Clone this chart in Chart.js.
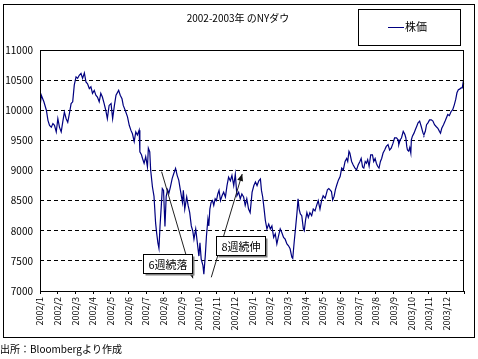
<!DOCTYPE html>
<html>
<head>
<meta charset="utf-8">
<script src="https://cdn.jsdelivr.net/npm/chart.js@4/dist/chart.umd.min.js"></script>
<style>
html,body{margin:0;padding:0;background:#fff;}
canvas{display:block;}
</style>
</head>
<body>
<canvas id="graficoDow" width="478" height="359"></canvas>
<script>
const titulo = "2002-2003年 のNYダウ";
const fonte = "出所：Bloombergより作成";
const serieNome = "株価";

const monthLabels = [
    "2002/1","2002/2","2002/3","2002/4","2002/5","2002/6",
    "2002/7","2002/8","2002/9","2002/10","2002/11","2002/12",
    "2003/1","2003/2","2003/3","2003/4","2003/5","2003/6",
    "2003/7","2003/8","2003/9","2003/10","2003/11","2003/12"
];

// position in months since 2002/1
const monthPos = [
    0, 0.075, 0.22, 0.36, 0.45, 0.54, 0.64, 0.73, 0.82, 0.92,
    1.01, 1.10, 1.20, 1.29, 1.38, 1.48, 1.57, 1.66, 1.76, 1.85,
    1.94, 2.04, 2.13, 2.22, 2.32, 2.41, 2.51, 2.60, 2.69, 2.79,
    2.88, 2.97, 3.07, 3.16, 3.25, 3.35, 3.44, 3.53, 3.63, 3.72,
    3.81, 3.91, 4.02, 4.11, 4.21, 4.30, 4.45, 4.54, 4.64, 4.71,
    4.82, 4.95, 5.05, 5.14, 5.23, 5.33, 5.42, 5.51, 5.61, 5.65,
    5.74, 5.80, 5.89, 5.98, 6.08, 6.13, 6.21, 6.26, 6.36, 6.45,
    6.54, 6.60, 6.67, 6.73, 6.79, 6.86, 6.92, 6.99, 7.07, 7.14,
    7.22, 7.29, 7.38, 7.48, 7.57, 7.67, 7.76, 7.85, 7.94, 8.06,
    8.11, 8.19, 8.30, 8.38, 8.47, 8.56, 8.64, 8.71, 8.81, 8.90,
    8.99, 9.05, 9.12, 9.22, 9.27, 9.35, 9.42, 9.50, 9.55, 9.61,
    9.68, 9.76, 9.83, 9.91, 9.98, 10.06, 10.13, 10.21, 10.30, 10.39,
    10.49, 10.58, 10.67, 10.77, 10.86, 10.96, 11.05, 11.14, 11.24, 11.33,
    11.42, 11.52, 11.61, 11.70, 11.80, 11.89, 12.00, 12.10, 12.19, 12.28,
    12.38, 12.47, 12.53, 12.60, 12.68, 12.75, 12.84, 12.94, 13.03, 13.12,
    13.22, 13.31, 13.40, 13.50, 13.59, 13.68, 13.78, 13.87, 13.97, 14.06,
    14.15, 14.25, 14.30, 14.38, 14.47, 14.54, 14.60, 14.66, 14.73, 14.81,
    14.90, 14.95, 15.03, 15.10, 15.18, 15.27, 15.37, 15.46, 15.56, 15.65,
    15.74, 15.84, 15.93, 16.02, 16.13, 16.19, 16.26, 16.34, 16.41, 16.49,
    16.56, 16.64, 16.71, 16.79, 16.88, 16.98, 17.07, 17.16, 17.26, 17.35,
    17.41, 17.48, 17.53, 17.63, 17.72, 17.82, 17.91, 18.00, 18.10, 18.17,
    18.25, 18.32, 18.40, 18.47, 18.54, 18.62, 18.71, 18.81, 18.88, 18.96,
    19.03, 19.10, 19.18, 19.26, 19.33, 19.41, 19.50, 19.59, 19.69, 19.78,
    19.87, 19.97, 20.06, 20.17, 20.26, 20.30, 20.38, 20.45, 20.55, 20.64,
    20.70, 20.75, 20.79, 20.86, 20.92, 20.98, 21.01, 21.07, 21.16, 21.24,
    21.31, 21.39, 21.48, 21.57, 21.67, 21.72, 21.80, 21.87, 21.95, 22.04,
    22.14, 22.23, 22.32, 22.41, 22.51, 22.60, 22.66, 22.73, 22.83, 22.92,
    22.99, 23.07, 23.16, 23.26, 23.35, 23.44, 23.52, 23.59, 23.67, 23.74,
    23.82, 23.89, 23.94, 24.0
];

const dowClose = [
    10055, 10250, 10140, 10000, 9833, 9750, 9720, 9780, 9750, 9640,
    9860, 9720, 9640, 9810, 9970, 9860, 9800, 9940, 10110, 10140,
    10420, 10555, 10530, 10580, 10610, 10530, 10620, 10470, 10440, 10360,
    10390, 10280, 10330, 10250, 10220, 10140, 10280, 10220, 10110, 10000,
    9860, 10080, 10110, 9860, 10080, 10250, 10330, 10250, 10190, 10080,
    10000, 9890, 9750, 9670, 9610, 9480, 9640, 9590, 9670, 9310,
    9260, 9200, 9120, 9230, 9060, 9370, 9310, 9010, 8730, 8570,
    8130, 7960, 7800, 7710, 8070, 8400, 8700, 8670, 8070, 8570,
    8680, 8620, 8730, 8870, 8950, 9035, 8920, 8840, 8680, 8470,
    8670, 8360, 8560, 8420, 8300, 8080, 8000, 7860, 8030, 7800,
    7580, 7800, 7530, 7420, 7280, 7580, 7920, 8190, 8080, 8360,
    8470, 8500, 8420, 8530, 8500, 8610, 8670, 8500, 8580, 8640,
    8560, 8750, 8890, 8830, 8920, 8750, 8940, 8580, 8640, 8530,
    8610, 8560, 8420, 8530, 8360, 8300, 8640, 8750, 8810, 8750,
    8830, 8860, 8670, 8560, 8360, 8170, 8030, 8110, 8030, 8080,
    7890, 7950, 7780, 7920, 8030, 7970, 7890, 7860, 7780, 7750,
    7700, 7560, 7540, 7810, 8080, 8300, 8530, 8360, 8280, 8250,
    8030, 8000, 8190, 8300, 8220, 8300, 8250, 8360, 8330, 8420,
    8500, 8360, 8500, 8580, 8540, 8600, 8680, 8700, 8680, 8650,
    8510, 8570, 8680, 8760, 8840, 8900, 9040, 9010, 9150, 9200,
    9150, 9320, 9290, 9150, 9090, 9040, 9010, 9090, 9150, 9200,
    9060, 9040, 9150, 9120, 9180, 9070, 9260, 9260, 9150, 9200,
    9120, 9070, 9040, 9150, 9200, 9290, 9340, 9400, 9430, 9340,
    9370, 9450, 9540, 9540, 9510, 9430, 9510, 9540, 9650, 9600,
    9540, 9400, 9340, 9320, 9380, 9290, 9510, 9570, 9620, 9680,
    9730, 9790, 9820, 9730, 9620, 9590, 9650, 9760, 9790, 9840,
    9840, 9820, 9760, 9730, 9700, 9650, 9620, 9700, 9760, 9820,
    9870, 9930, 9910, 9980, 10010, 10090, 10180, 10290, 10340, 10350,
    10370, 10370, 10460, 10430
];

// callouts, in chart units (month, index level)
const notas = [
    { texto: "6週続落", caixa: [7.24, 7460], de: [6.88, 8980], ate: [8.65, 7211] },
    { texto: "8週続伸", caixa: [11.34, 7759], de: [9.69, 7227], ate: [11.44, 8942] }
];

const FONTE = "'Noto Sans CJK JP', 'Noto Sans', sans-serif";
const COR_LINHA = "#000080";

Chart.defaults.font.family = FONTE;
Chart.defaults.font.size = 10;
Chart.defaults.color = "#000";

const pontos = monthPos.map((m, i) => ({ x: m, y: dowClose[i] }));

function seta(ctx, x1, y1, x2, y2){
    ctx.beginPath();
    ctx.moveTo(x1, y1);
    ctx.lineTo(x2, y2);
    ctx.stroke();
    const ang = Math.atan2(y2 - y1, x2 - x1);
    const len = 7, w = 3;
    ctx.beginPath();
    ctx.moveTo(x2, y2);
    ctx.lineTo(x2 - len*Math.cos(ang) + w*Math.sin(ang), y2 - len*Math.sin(ang) - w*Math.cos(ang));
    ctx.lineTo(x2 - len*Math.cos(ang) - w*Math.sin(ang), y2 - len*Math.sin(ang) + w*Math.cos(ang));
    ctx.closePath();
    ctx.fill();
}

const decoracao = {
    id: "decoracao",
    afterDraw(chart){
        const ctx = chart.ctx;
        const a = chart.chartArea;
        const xs = chart.scales.x, ys = chart.scales.y;
        ctx.save();
        ctx.setLineDash([]);
        ctx.strokeStyle = "#000";
        ctx.lineWidth = 1;

        // plot frame + outer frame
        ctx.strokeRect(Math.round(a.left) + 0.5, Math.round(a.top) + 0.5,
            Math.round(a.right - a.left) - 1, Math.round(a.bottom - a.top));
        ctx.strokeRect(3.5, 4.5, 471, 333);

        // title
        ctx.fillStyle = "#000";
        ctx.font = "10px " + FONTE;
        ctx.textAlign = "center";
        ctx.textBaseline = "middle";
        ctx.fillText(titulo, 238, 18);

        // legend
        ctx.strokeRect(358.5, 9.5, 102, 36);
        ctx.strokeStyle = COR_LINHA;
        ctx.beginPath();
        ctx.moveTo(388, 27.5);
        ctx.lineTo(404, 27.5);
        ctx.stroke();
        ctx.font = "11px " + FONTE;
        ctx.textAlign = "left";
        ctx.fillText(serieNome, 405, 27);

        // source
        ctx.font = "10px " + FONTE;
        ctx.fillText(fonte, 0, 349);

        // callouts
        notas.forEach(n => {
            ctx.strokeStyle = "#222";
            ctx.fillStyle = "#111";
            ctx.lineWidth = 1;
            seta(ctx,
                xs.getPixelForValue(n.de[0]), ys.getPixelForValue(n.de[1]),
                xs.getPixelForValue(n.ate[0]), ys.getPixelForValue(n.ate[1]));

            ctx.font = "11px " + FONTE;
            const w = Math.round(ctx.measureText(n.texto).width) + 10;
            const h = 19;
            const cx = xs.getPixelForValue(n.caixa[0]);
            const cy = ys.getPixelForValue(n.caixa[1]);
            const bx = Math.round(cx - w/2) + 0.5, by = Math.round(cy - h/2) + 0.5;
            ctx.fillStyle = "#808080";
            ctx.fillRect(bx + 2, by + 2, w, h);
            ctx.fillStyle = "#fff";
            ctx.fillRect(bx, by, w, h);
            ctx.strokeStyle = "#000";
            ctx.strokeRect(bx, by, w, h);
            ctx.fillStyle = "#000";
            ctx.textAlign = "center";
            ctx.textBaseline = "middle";
            ctx.fillText(n.texto, bx + w/2, by + h/2 + 0.5);
        });
        ctx.restore();
    }
};

new Chart(document.getElementById("graficoDow"), {
    type: "line",
    data: {
        datasets: [{
            label: serieNome,
            data: pontos,
            borderColor: COR_LINHA,
            borderWidth: 1.2,
            pointRadius: 0,
            tension: 0,
            fill: false
        }]
    },
    options: {
        responsive: false,
        animation: false,
        devicePixelRatio: 1,
        layout: { padding: { left: 0, right: 10, top: 50, bottom: 0 } },
        plugins: {
            legend: { display: false },
            tooltip: { enabled: false },
            title: { display: false }
        },
        scales: {
            x: {
                type: "linear",
                min: 0,
                max: 24,
                afterFit(s){ s.height = 68; },
                ticks: {
                    stepSize: 1,
                    autoSkip: false,
                    maxRotation: 90,
                    minRotation: 90,
                    padding: 3,
                    font: { size: 9 },
                    callback: v => monthLabels[v] || ""
                },
                grid: {
                    drawOnChartArea: false,
                    drawTicks: true,
                    tickLength: 3,
                    color: "#000"
                },
                border: { display: false }
            },
            y: {
                min: 7000,
                max: 11000,
                afterFit(s){ s.width = 40; },
                ticks: {
                    stepSize: 500,
                    padding: 7,
                    font: { size: 10 },
                    callback: v => String(v)
                },
                grid: {
                    color: "#000",
                    drawTicks: false,
                    lineWidth: 1
                },
                border: { display: false, dash: [4, 3] }
            }
        }
    },
    plugins: [decoracao]
});
</script>
</body>
</html>
